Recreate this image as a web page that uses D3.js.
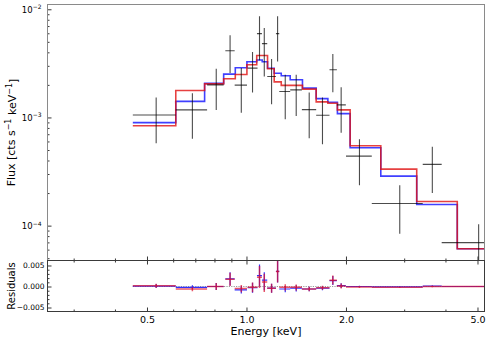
<!DOCTYPE html>
<html><head><meta charset="utf-8">
<script src="https://cdn.jsdelivr.net/npm/d3@7"></script>
<style>body{margin:0;background:#fff} svg{display:block} text{font-family:"DejaVu Sans",sans-serif;fill:#000}</style>
</head><body><svg id="c" width="491" height="343"></svg>
<script>
// ---- data ----
const energy = [0.533,0.686,0.810,0.892,0.9645,1.043,1.095,1.132,1.191,1.242,1.31,1.414,1.548,1.698,1.825,1.934,2.197,2.909,3.65,5.04];
const eLo    = [0.453,0.611,0.760,0.863,0.921,1.0077,1.0758,1.1137,1.1556,1.2278,1.2564,1.356,1.471,1.625,1.783,1.877,2.0,2.394,3.414,3.896];
const eHi    = [0.611,0.760,0.853,0.921,1.0035,1.080,1.1137,1.1556,1.2278,1.2564,1.356,1.471,1.625,1.783,1.877,1.998,2.394,3.414,3.896,5.6];
const flux   = [1.054e-3,1.174e-3,2.00e-3,4.14e-3,1.99e-3,2.86e-3,5.95e-3,4.81e-3,2.39e-3,5.95e-3,1.735e-3,1.80e-3,1.181e-3,1.048e-3,2.757e-3,1.306e-3,4.39e-4,1.60e-4,3.68e-4,6.96e-5];
const fluxHi = [1.527e-3,1.677e-3,2.818e-3,5.74e-3,2.86e-3,4.025e-3,8.61e-3,6.72e-3,3.467e-3,8.61e-3,2.477e-3,2.477e-3,1.70e-3,1.527e-3,3.857e-3,1.905e-3,6.28e-4,2.365e-4,5.36e-4,1.028e-4];
const fluxLo = [5.77e-4,6.36e-4,1.174e-3,2.57e-3,1.108e-3,1.70e-3,3.37e-3,2.39e-3,1.326e-3,3.29e-3,9.62e-4,1.032e-3,6.41e-4,5.64e-4,1.713e-3,7.22e-4,2.365e-4,8.43e-5,2.006e-4,4.0e-5];

const modelEdges = [0.453,0.611,0.747,0.853,0.925,1.003,1.074,1.116,1.158,1.213,1.274,1.356,1.477,1.625,1.763,1.884,2.059,2.549,3.274,4.343,5.45];
const modelBlue  = [8.95e-4,1.407e-3,2.067e-3,2.516e-3,2.878e-3,3.272e-3,3.393e-3,3.272e-3,2.848e-3,2.56e-3,2.427e-3,2.228e-3,1.866e-3,1.494e-3,1.384e-3,1.084e-3,5.25e-4,2.866e-4,1.566e-4,6.12e-5];
const modelRed   = [8.39e-4,1.772e-3,2.045e-3,2.276e-3,2.495e-3,3.069e-3,3.743e-3,3.743e-3,2.818e-3,2.134e-3,1.981e-3,1.981e-3,1.826e-3,1.392e-3,1.354e-3,1.174e-3,5.48e-4,3.33e-4,1.67e-4,6.12e-5];

const resBlue = [0.0001,-0.0002,0.0000,0.0018,-0.0008,-0.0003,0.0026,0.0015,-0.0004,0.0036,-0.0006,-0.0004,-0.0006,-0.0004,0.0014,0.0002,0.0000,-0.0001,0.0001,0.0000];
const resRed  = [0.0002,-0.0006,0.0000,0.0017,-0.0005,-0.0002,0.0022,0.0011,-0.0004,0.0036,-0.0002,-0.0002,-0.0006,-0.0003,0.0015,0.0001,-0.0001,-0.0002,0.0000,0.0000];

const xMajor = [0.5,1.0,2.0,5.0];
const xMajorLabels = ["0.5","1.0","2.0","5.0"];
const xMinor = [0.3,0.4,0.6,0.7,0.8,0.9,3,4];
const yMajor = [1e-4,1e-3,1e-2];
const yMajorExp = ["−4","−3","−2"];
const yMinor = [5e-5,6e-5,7e-5,8e-5,9e-5,2e-4,3e-4,4e-4,5e-4,6e-4,7e-4,8e-4,9e-4,2e-3,3e-3,4e-3,5e-3,6e-3,7e-3,8e-3,9e-3];
const rMajor = [-0.005,0,0.005];
const rMajorLabels = ["−0.005","0.000","0.005"];
const rMinor = [-0.004,-0.003,-0.002,-0.001,0.001,0.002,0.003,0.004];

// ---- layout ----
const L=47.5, R=484.5, T=4.5, MID=260.5, B=311.5;
const svg = d3.select("#c");
const x = d3.scaleLog().domain([0.25,5.25]).range([L,R]);
const y = d3.scaleLog().domain([4.76e-5,0.01107]).range([MID,T]);
const yr = d3.scaleLinear().domain([-0.00595,0.00619]).range([B,MID]);

const defs = svg.append("defs");
defs.append("clipPath").attr("id","cTop").append("rect").attr("x",L).attr("y",T).attr("width",R-L).attr("height",MID-T);
defs.append("clipPath").attr("id","cBot").append("rect").attr("x",L).attr("y",MID).attr("width",R-L).attr("height",B-MID);

// ---- top panel ----
const gTop = svg.append("g").attr("clip-path","url(#cTop)");
function stepPts(edges, vals){ const p = vals.map((v,i)=>[edges[i],v]); p.push([edges[edges.length-1], vals[vals.length-1]]); return p; }
const stepLine = d3.line().x(d=>x(d[0])).y(d=>y(d[1])).curve(d3.curveStepAfter);
gTop.append("path").attr("d",stepLine(stepPts(modelEdges,modelBlue))).attr("fill","none").attr("stroke","#1010ff").attr("stroke-width",1.6).attr("stroke-opacity",0.8);
gTop.append("path").attr("d",stepLine(stepPts(modelEdges,modelRed))).attr("fill","none").attr("stroke","#e01010").attr("stroke-width",1.6).attr("stroke-opacity",0.8);

const pts = gTop.append("g").attr("stroke","#000").attr("stroke-opacity",0.7).attr("stroke-width",1.1);
energy.forEach((e,i)=>{
  pts.append("line").attr("x1",x(eLo[i])).attr("x2",x(eHi[i])).attr("y1",y(flux[i])).attr("y2",y(flux[i]));
  pts.append("line").attr("x1",x(e)).attr("x2",x(e)).attr("y1",y(fluxLo[i])).attr("y2",y(fluxHi[i]));
});

// ---- residual panel ----
const gBot = svg.append("g").attr("clip-path","url(#cBot)");
gBot.append("line").attr("x1",x(eLo[0])).attr("x2",R).attr("y1",yr(0)).attr("y2",yr(0))
  .attr("stroke","#999").attr("stroke-width",1).attr("stroke-dasharray","1.2,1.2");
function resid(vals,color,w,op){
  const g = gBot.append("g").attr("stroke",color).attr("stroke-width",w).attr("stroke-opacity",op);
  energy.forEach((e,i)=>{
    const v = vals[i];
    g.append("line").attr("x1",x(eLo[i])).attr("x2",x(eHi[i])).attr("y1",yr(v)).attr("y2",yr(v));
    g.append("line").attr("x1",x(e)).attr("x2",x(e)).attr("y1",yr(v-(flux[i]-fluxLo[i]))).attr("y2",yr(v+(fluxHi[i]-flux[i])));
  });
}
resid(resBlue,"#1a1aff",1.2,0.9);
resid(resRed,"#e0102a",1.5,0.7);

// ---- axes ----
function noDomain(g){ g.select(".domain").remove(); }
svg.append("g").attr("transform",`translate(0,${MID})`).call(d3.axisBottom(x).tickValues(xMajor).tickSize(-4).tickFormat("")).call(noDomain);
svg.append("g").attr("transform",`translate(0,${MID})`).call(d3.axisBottom(x).tickValues(xMinor).tickSize(-2).tickFormat("")).call(noDomain);
svg.append("g").attr("transform",`translate(0,${MID})`).call(d3.axisTop(x).tickValues(xMajor).tickSize(-4).tickFormat("")).call(noDomain);
svg.append("g").attr("transform",`translate(0,${MID})`).call(d3.axisTop(x).tickValues(xMinor).tickSize(-2).tickFormat("")).call(noDomain);
svg.append("g").attr("transform",`translate(0,${B})`)
  .call(d3.axisBottom(x).tickValues(xMajor).tickSize(-4).tickPadding(4.5).tickFormat((d,i)=>xMajorLabels[i]))
  .call(noDomain).call(g=>g.selectAll("text").attr("font-size",9.5).style("font-family","DejaVu Sans"));
svg.append("g").attr("transform",`translate(0,${B})`).call(d3.axisBottom(x).tickValues(xMinor).tickSize(-2).tickFormat("")).call(noDomain);

const yAx = svg.append("g").attr("transform",`translate(${L},0)`)
  .call(d3.axisLeft(y).tickValues(yMajor).tickSize(-4).tickPadding(6).tickFormat(""))
  .call(noDomain);
yAx.selectAll(".tick text").each(function(d,i){
  const t = d3.select(this).attr("font-size",8.5).style("font-family","DejaVu Sans");
  t.text(null);
  t.append("tspan").text("10");
  t.append("tspan").attr("font-size",6).attr("dy","-0.55em").text(yMajorExp[i]);
});
svg.append("g").attr("transform",`translate(${L},0)`).call(d3.axisLeft(y).tickValues(yMinor).tickSize(-2).tickFormat("")).call(noDomain);

svg.append("g").attr("transform",`translate(${L},0)`)
  .call(d3.axisLeft(yr).tickValues(rMajor).tickSize(-4).tickPadding(3).tickFormat((d,i)=>rMajorLabels[i]))
  .call(noDomain).call(g=>g.selectAll("text").attr("font-size",7.5).style("font-family","DejaVu Sans"));
svg.append("g").attr("transform",`translate(${L},0)`).call(d3.axisLeft(yr).tickValues(rMinor).tickSize(-2).tickFormat("")).call(noDomain);

svg.selectAll(".tick line").attr("stroke","#222").attr("stroke-width",0.9);

svg.append("rect").attr("x",L).attr("y",T).attr("width",R-L).attr("height",MID-T).attr("fill","none").attr("stroke","#8a8a8a").attr("stroke-width",1);
svg.append("rect").attr("x",L).attr("y",MID).attr("width",R-L).attr("height",B-MID).attr("fill","none").attr("stroke","#3a3a3a").attr("stroke-width",1);

const yl = svg.append("text").attr("transform",`translate(14.5,${(T+MID)/2}) rotate(-90)`).attr("text-anchor","middle").attr("font-size",11);
yl.append("tspan").text("Flux [cts s");
yl.append("tspan").attr("font-size",8).attr("dy","-0.45em").text("−1");
yl.append("tspan").attr("dy","0.45em").text(" keV");
yl.append("tspan").attr("font-size",8).attr("dy","-0.45em").text("−1");
yl.append("tspan").attr("dy","0.45em").text("]");

svg.append("text").attr("transform",`translate(14.5,${(MID+B)/2}) rotate(-90)`).attr("text-anchor","middle").attr("font-size",10).text("Residuals");
svg.append("text").attr("x",(L+R)/2).attr("y",335).attr("text-anchor","middle").attr("font-size",11).text("Energy [keV]");
</script></body></html>
